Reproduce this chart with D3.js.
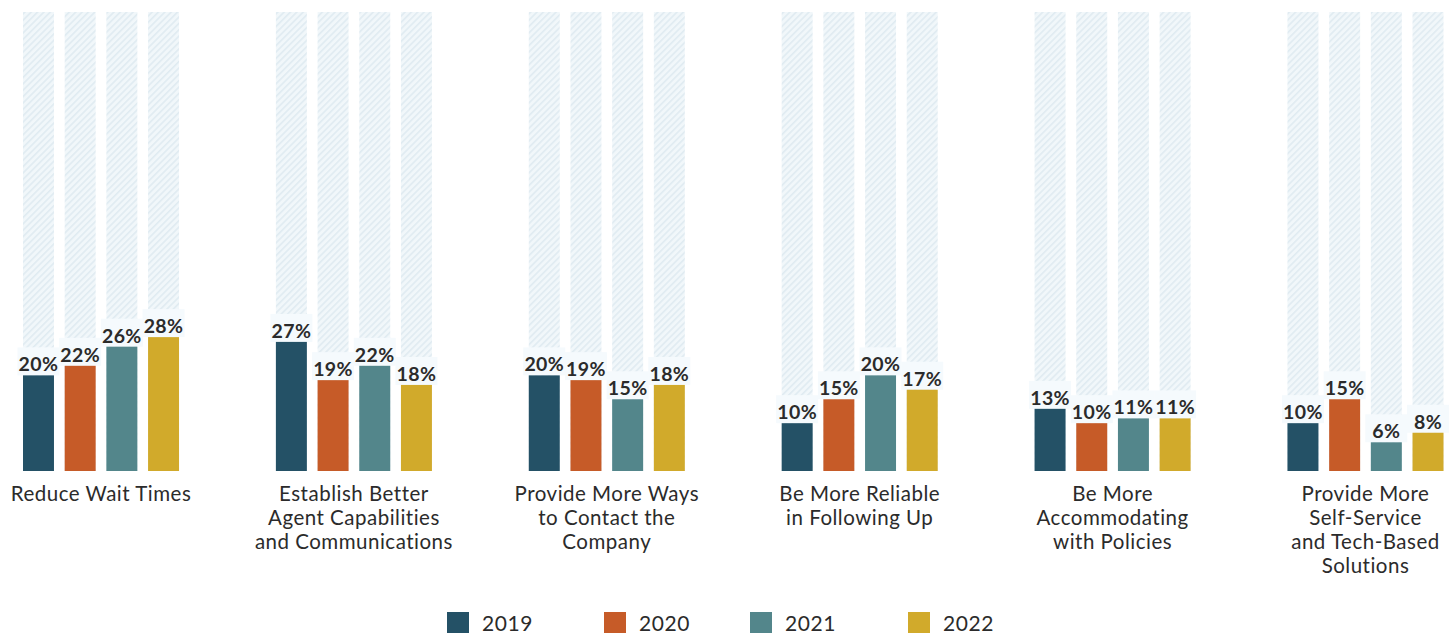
<!DOCTYPE html>
<html>
<head>
<meta charset="utf-8">
<script src="https://cdn.jsdelivr.net/npm/d3@7"></script>
<style>
  html, body { margin: 0; padding: 0; background: #ffffff; }
  svg { display: block; }
  text { font-family: "Lato", "Open Sans", sans-serif; }
</style>
</head>
<body>
<svg id="chart" width="1456" height="637"></svg>
<script>
const categories = [
  "Reduce Wait Times",
  "Establish Better\nAgent Capabilities\nand Communications",
  "Provide More Ways\nto Contact the\nCompany",
  "Be More Reliable\nin Following Up",
  "Be More\nAccommodating\nwith Policies",
  "Provide More\nSelf-Service\nand Tech-Based\nSolutions"
];
const years = ["2019", "2020", "2021", "2022"];
const values2019 = [20, 27, 20, 10, 13, 10];
const values2020 = [22, 19, 19, 15, 10, 15];
const values2021 = [26, 22, 15, 20, 11, 6];
const values2022 = [28, 18, 18, 17, 11, 8];
const colors = ["#245166", "#c65b28", "#53868b", "#d1aa2b"];
const backgroundMax = 96;

const series = [values2019, values2020, values2021, values2022];
const svg = d3.select("#chart");

const defs = svg.append("defs");
const pat = defs.append("pattern")
  .attr("id", "hatch")
  .attr("patternUnits", "userSpaceOnUse")
  .attr("width", 4.5).attr("height", 4.5)
  .attr("patternTransform", "rotate(45)");
pat.append("rect").attr("width", 4.5).attr("height", 4.5).attr("fill", "#f1f7fa");
pat.append("rect").attr("width", 1.6).attr("height", 4.5).attr("fill", "#e0ebf1");

const baseY = 471, topY = 12;
const y = d3.scaleLinear().domain([0, backgroundMax]).range([baseY, topY]);

const x0 = d3.scaleBand().domain(d3.range(categories.length))
  .range([23, 1443.5]).paddingInner(0.383).paddingOuter(0);
const x1 = d3.scaleBand().domain(years)
  .range([0, x0.bandwidth()]).paddingInner(0.257).paddingOuter(0);

const groups = svg.selectAll("g.grp").data(categories).join("g")
  .attr("class", "grp")
  .attr("transform", (d, i) => `translate(${x0(i)},0)`);

// background hatched bars
groups.selectAll("rect.bg").data(years).join("rect")
  .attr("class", "bg")
  .attr("x", d => x1(d))
  .attr("y", y(backgroundMax))
  .attr("width", x1.bandwidth())
  .attr("height", y(0) - y(backgroundMax))
  .attr("fill", "url(#hatch)");

groups.each(function(cat, ci) {
  const g = d3.select(this);
  const data = years.map((yr, si) => ({ yr, si, v: series[si][ci] }));
  g.selectAll("rect.lbg").data(data).join("rect")
    .attr("class", "lbg")
    .attr("x", d => x1(d.yr) + x1.bandwidth() / 2 - 21)
    .attr("y", d => y(d.v) - 28)
    .attr("width", 42)
    .attr("height", 28)
    .attr("fill", "#f5fafd");
  g.selectAll("rect.bar").data(data).join("rect")
    .attr("class", "bar")
    .attr("x", d => x1(d.yr))
    .attr("y", d => y(d.v))
    .attr("width", x1.bandwidth())
    .attr("height", d => y(0) - y(d.v))
    .attr("fill", d => colors[d.si]);
  g.selectAll("text.val").data(data).join("text")
    .attr("class", "val")
    .attr("x", d => x1(d.yr) + x1.bandwidth() / 2)
    .attr("y", d => y(d.v) - 4)
    .attr("text-anchor", "middle")
    .attr("font-size", 19.5)
    .attr("font-weight", 700)
    .attr("letter-spacing", 0.4)
    .attr("fill", "#2b2b2b")
    .text(d => d.v + "%");
  const lines = cat.split("\n");
  g.append("text")
    .attr("x", x0.bandwidth() / 2)
    .attr("y", 501)
    .attr("text-anchor", "middle")
    .attr("font-size", 20.5)
    .attr("letter-spacing", 0.5)
    .attr("fill", "#2b2b2b")
    .selectAll("tspan").data(lines).join("tspan")
    .attr("x", x0.bandwidth() / 2)
    .attr("dy", (d, i) => i === 0 ? 0 : 24)
    .text(d => d);
});

// legend
const legendX = [447, 604, 750, 908];
const leg = svg.selectAll("g.leg").data(years).join("g")
  .attr("class", "leg")
  .attr("transform", (d, i) => `translate(${legendX[i]},612)`);
leg.append("rect").attr("width", 22).attr("height", 21).attr("fill", (d, i) => colors[i]);
leg.append("text").attr("x", 35).attr("y", 19)
  .attr("font-size", 21).attr("letter-spacing", 0.6).attr("fill", "#2b2b2b").text(d => d);
</script>
</body>
</html>
